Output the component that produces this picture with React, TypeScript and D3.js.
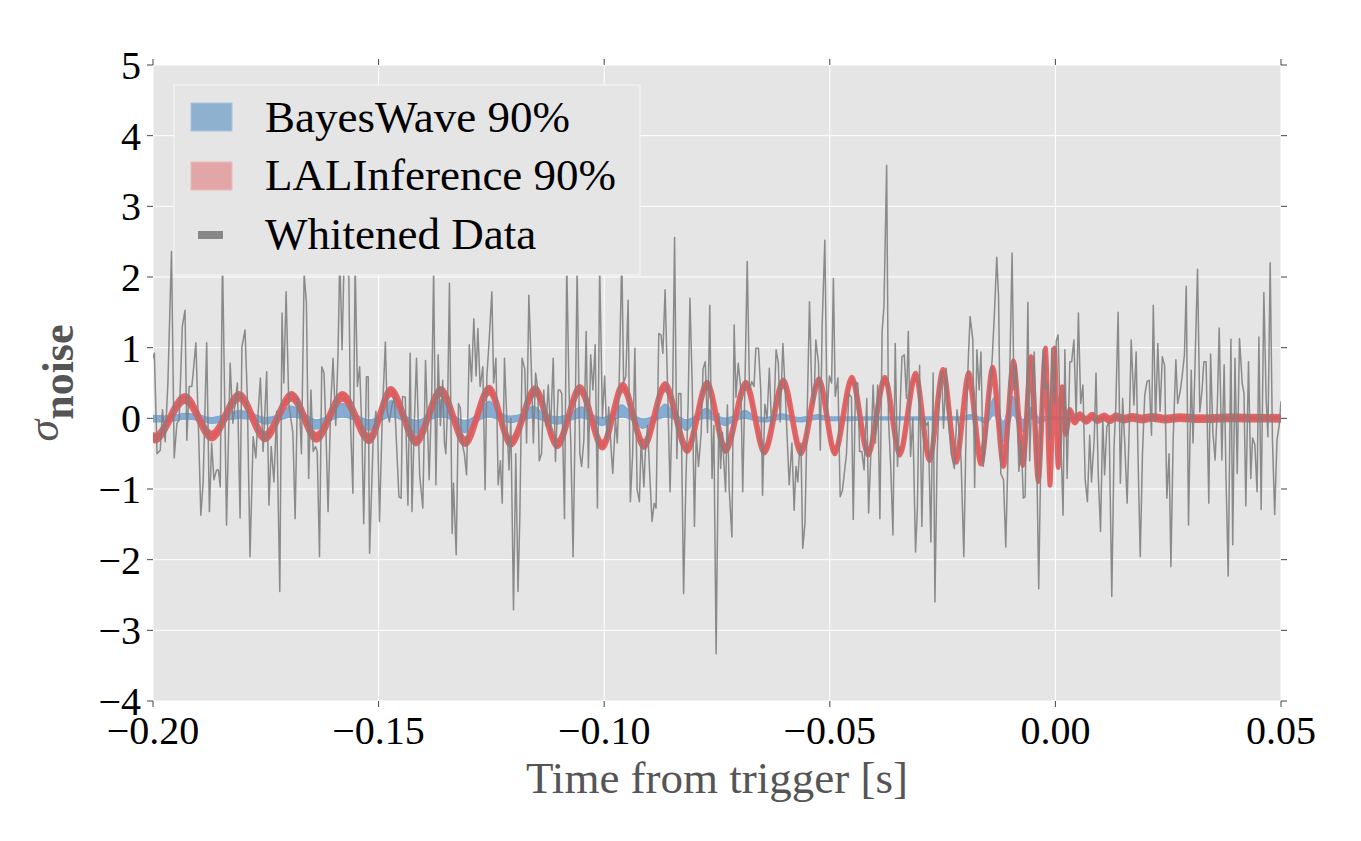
import React from "react";
import * as d3 from "d3";

// ---------- data (time in ms from trigger, values in sigma_noise) ----------
const xTickValues = [-0.2, -0.15, -0.1, -0.05, 0.0, 0.05];
const yTickValues = [-4, -3, -2, -1, 0, 1, 2, 3, 4, 5];
const legendLabels = ["BayesWave 90%", "LALInference 90%", "Whitened Data"];

const whitenedData: [number, number][] = [
  [-200.0,0.85],[-199.7,0.92],[-199.1,-0.5],[-198.4,-0.45],[-197.9,0.12],[-197.3,-0.33],[-196.7,0.5],[-195.9,2.36],[-195.3,-0.56],[-194.7,-0.07],[-194.2,-0.02],[-193.5,1.3],[-192.9,1.53],[-192.5,-0.31],[-192.0,0.45],[-191.4,0.45],[-191.1,0.64],[-190.5,1.07],[-189.9,-0.2],[-189.4,-1.37],[-188.9,-0.92],[-188.1,1.07],[-187.5,-1.32],[-187.0,-0.35],[-186.5,-0.87],[-185.9,-0.73],[-185.5,-0.73],[-185.1,-0.97],[-184.6,2.3],[-183.7,-1.51],[-182.9,0.78],[-182.3,-0.07],[-181.8,0.21],[-181.3,0.5],[-180.7,-1.41],[-180.3,1.01],[-179.6,1.25],[-179.1,0.3],[-178.5,-1.96],[-177.8,-0.26],[-177.2,-0.56],[-176.7,0.07],[-176.2,0.57],[-175.6,-0.47],[-174.8,0.66],
  [-174.3,-1.23],[-173.8,-0.4],[-173.2,-0.9],[-172.6,0.1],[-171.9,-2.45],[-171.4,1.49],[-171.0,0.5],[-170.5,1.79],[-169.9,0.2],[-169.3,-0.07],[-169.0,-0.2],[-168.5,-1.42],[-168.0,0.3],[-167.5,0.1],[-167.1,-0.5],[-166.5,2.05],[-166.0,1.63],[-165.5,-0.85],[-165.0,0.4],[-164.5,-0.47],[-164.0,-0.4],[-163.6,-0.47],[-163.1,-1.96],[-162.6,0.73],[-162.1,0.64],[-161.7,-0.1],[-161.2,-1.32],[-160.6,0.2],[-160.1,0.85],[-159.5,-0.1],[-159.0,0.9],[-158.6,2.3],[-158.1,0.97],[-157.7,2.1],[-157.2,2.1],[-156.6,2.0],[-156.2,-0.12],[-155.7,-1.06],[-155.2,2.2],[-154.7,0.45],[-154.2,0.73],[-153.7,-0.2],[-153.3,-1.49],[-152.7,0.59],[-152.3,0.59],[-152.0,-1.91],[-151.2,-0.3],[-150.6,0.1],[-150.2,-0.15],[-149.8,-1.46],
  [-149.2,0.0],[-148.5,1.08],[-148.1,0.1],[-147.6,-0.05],[-147.0,0.2],[-146.5,0.3],[-146.0,-0.4],[-145.5,-1.11],[-145.0,-1.13],[-144.7,0.31],[-144.1,0.3],[-143.5,-1.23],[-143.0,0.92],[-142.6,-1.32],[-142.1,-0.1],[-141.6,0.85],[-140.9,-0.8],[-140.6,-1.0],[-140.2,-1.27],[-139.6,0.82],[-139.1,-0.2],[-138.8,-0.87],[-138.2,0.4],[-137.8,2.1],[-137.3,-0.94],[-136.8,0.9],[-136.3,-0.1],[-135.8,0.54],[-135.4,-0.35],[-135.1,-0.5],[-134.7,0.21],[-134.3,1.91],[-133.7,-1.63],[-133.4,-0.92],[-132.8,-1.93],[-132.3,0.21],[-131.9,0.15],[-131.5,-0.35],[-131.0,-0.5],[-130.5,-0.8],[-129.9,1.04],[-129.4,0.52],[-128.9,1.41],[-128.4,0.6],[-128.0,1.27],[-127.5,0.45],[-126.9,0.73],[-126.4,-1.01],[-126.0,0.6],[-125.5,1.1],[-124.9,1.79],
  [-124.5,0.5],[-124.0,0.85],[-123.5,-0.94],[-123.0,-0.6],[-122.6,-1.2],[-122.1,0.85],[-121.6,0.0],[-121.1,-0.73],[-120.7,0.0],[-120.1,-2.71],[-119.6,-0.5],[-119.1,-2.45],[-118.7,-1.4],[-118.2,0.85],[-117.6,0.7],[-117.2,-0.35],[-116.7,1.74],[-116.2,0.8],[-115.7,-0.35],[-115.2,0.64],[-114.7,0.4],[-114.4,-0.6],[-113.9,-0.5],[-113.4,0.4],[-112.9,-0.1],[-112.4,0.47],[-111.9,-0.2],[-111.3,0.85],[-110.8,-0.61],[-110.2,0.4],[-109.8,0.4],[-109.4,0.35],[-108.8,-1.42],[-108.3,2.2],[-107.8,0.4],[-107.4,-0.35],[-106.9,-1.96],[-106.5,-0.3],[-106.0,2.1],[-105.4,-0.5],[-105.0,-0.68],[-104.5,-0.3],[-104.0,1.23],[-103.5,-0.7],[-103.0,0.9],[-102.5,0.4],[-102.0,1.04],[-101.5,-1.27],[-101.0,2.15],[-100.4,0.0],[-99.9,0.6],
  [-99.4,-0.3],[-99.0,0.16],[-98.4,-0.5],[-98.1,-0.78],[-97.5,0.0],[-97.1,-0.35],[-96.7,0.45],[-96.1,2.3],[-95.7,0.5],[-95.2,0.6],[-94.7,1.67],[-94.2,-1.18],[-93.7,-0.5],[-93.2,0.99],[-92.7,-1.01],[-92.2,-1.18],[-91.8,-0.3],[-91.2,-0.97],[-90.9,-0.5],[-90.4,-0.1],[-89.9,-0.8],[-89.4,-1.46],[-88.9,-1.2],[-88.5,-1.27],[-87.9,1.2],[-87.4,1.18],[-87.0,0.92],[-86.5,1.82],[-85.9,0.3],[-85.4,-1.04],[-84.8,0.5],[-84.4,2.56],[-83.9,-0.57],[-83.5,0.35],[-83.0,0.35],[-82.4,-2.48],[-81.9,-0.9],[-81.4,0.2],[-81.0,1.7],[-80.5,0.5],[-80.0,-1.53],[-79.6,-0.2],[-79.1,-0.68],[-78.5,-0.2],[-78.1,0.7],[-77.6,0.8],[-77.1,-0.2],[-76.6,1.6],[-76.1,-0.85],[-75.7,-0.1],[-75.2,-3.33],
  [-74.6,0.07],[-74.2,-0.71],[-73.8,-0.2],[-73.5,-0.6],[-73.1,-1.04],[-72.7,0.19],[-72.3,-1.0],[-71.7,-1.68],[-71.2,1.32],[-70.8,0.3],[-70.3,0.78],[-69.7,0.4],[-69.3,-1.04],[-68.8,0.5],[-68.3,2.22],[-67.8,0.4],[-67.3,0.52],[-66.8,0.45],[-66.4,0.99],[-65.8,0.99],[-65.3,0.4],[-64.9,-1.09],[-64.4,0.2],[-63.9,0.0],[-63.4,0.71],[-62.9,-0.1],[-62.4,0.05],[-61.9,0.97],[-61.4,0.78],[-61.0,-0.05],[-60.4,1.06],[-59.9,0.4],[-59.4,-0.35],[-59.0,-0.94],[-58.4,-0.35],[-57.9,-1.3],[-57.5,-0.68],[-57.1,-0.9],[-56.8,-0.55],[-56.4,-0.35],[-56.0,-1.84],[-55.5,-1.49],[-55.1,-0.2],[-54.5,1.65],[-54.0,0.4],[-53.5,0.21],[-53.1,1.11],[-52.5,0.78],[-52.1,-0.45],[-51.7,1.3],[-51.1,2.52],[-50.6,0.0],[-50.1,0.6],[-49.6,0.5],
  [-49.2,1.98],[-48.8,0.31],[-48.2,0.57],[-47.7,-1.11],[-47.2,-1.02],[-46.7,-0.73],[-46.3,-0.5],[-45.8,0.35],[-45.2,0.3],[-44.8,-1.43],[-44.3,0.5],[-43.8,0.5],[-43.4,-0.47],[-42.9,-0.47],[-42.4,-0.73],[-41.8,0.28],[-41.4,-1.34],[-40.9,-0.5],[-40.4,0.47],[-39.9,-0.35],[-39.4,0.47],[-38.9,-1.42],[-38.4,1.23],[-38.0,1.58],[-37.4,3.58],[-37.0,0.0],[-36.5,-0.68],[-36.0,-1.65],[-35.5,1.06],[-35.0,-0.68],[-34.5,0.0],[-34.0,0.87],[-33.5,0.9],[-33.0,0.28],[-32.6,1.23],[-32.1,-0.54],[-31.6,0.0],[-31.0,-1.89],[-30.6,-1.3],[-30.1,0.75],[-29.6,-1.53],[-29.1,0.0],[-28.6,-0.1],[-28.2,-0.05],[-27.6,-1.75],[-27.1,0.64],[-26.7,-2.6],[-26.2,-0.47],[-25.6,0.5],[-25.2,0.66],[-24.8,-0.14],[-24.2,0.71],
  [-23.7,0.0],[-23.1,-0.5],[-22.4,-0.71],[-21.8,0.12],[-21.3,-0.2],[-20.9,-0.6],[-20.3,-1.96],[-19.8,-0.2],[-19.3,0.85],[-18.9,1.44],[-18.3,1.11],[-17.9,-0.98],[-17.4,0.97],[-16.9,0.4],[-16.5,0.94],[-16.0,-0.68],[-15.4,-0.3],[-14.9,0.0],[-14.5,0.45],[-14.0,0.85],[-13.5,1.5],[-13.0,2.28],[-12.6,1.72],[-12.1,-0.78],[-11.5,-0.87],[-11.0,-1.82],[-10.5,-0.5],[-10.1,0.7],[-9.6,2.34],[-9.2,0.4],[-8.7,0.75],[-8.1,-0.75],[-7.6,-0.31],[-7.1,-1.13],[-6.7,-1.11],[-6.1,1.64],[-5.7,-0.6],[-5.2,0.4],[-4.7,0.94],[-4.2,-0.3],[-3.7,-2.41],[-3.2,-0.4],[-2.7,0.97],[-2.2,0.4],[-1.7,0.5],[-1.3,-0.3],[-0.8,0.99],[-0.2,0.2],[0.2,1.1],[0.6,1.18],
  [1.2,-0.3],[1.7,-1.37],[2.1,0.97],[2.6,-0.85],[3.2,0.8],[3.6,0.8],[4.1,1.11],[4.6,0.0],[5.1,1.49],[5.6,0.21],[6.1,0.47],[6.6,-0.87],[7.1,-1.18],[7.6,-0.24],[8.0,-0.9],[8.6,-0.3],[9.0,0.64],[9.5,-0.8],[10.0,-1.6],[10.5,0.0],[10.9,-0.8],[11.4,-0.12],[11.9,-0.05],[12.5,-2.52],[13.0,-0.4],[13.4,0.2],[13.9,1.5],[14.4,-0.92],[14.9,0.28],[15.4,-0.4],[15.9,-1.2],[16.4,-0.05],[16.8,1.11],[17.4,0.19],[17.9,0.94],[18.3,-0.5],[18.8,-1.96],[19.3,-0.5],[19.8,0.33],[20.3,0.52],[20.8,0.54],[21.3,-0.24],[21.7,1.6],[22.2,-0.05],[22.7,1.06],[23.2,0.1],[23.7,0.87],[24.2,0.75],[24.7,-1.13],[25.2,-0.5],[25.6,-2.1],
  [26.1,-0.3],[26.7,0.83],[27.1,0.21],[27.7,0.4],[28.1,0.6],[28.6,0.9],[29.0,1.87],[29.5,-1.51],[30.1,0.68],[30.5,-0.35],[31.0,0.9],[31.5,2.11],[32.0,0.09],[32.5,0.4],[32.9,0.8],[33.4,0.8],[34.0,-1.2],[34.4,0.91],[34.9,-0.2],[35.4,-0.59],[35.9,0.2],[36.3,1.28],[36.9,-0.59],[37.4,0.76],[37.8,-0.8],[38.3,-2.23],[38.9,1.12],[39.3,-1.79],[39.8,0.85],[40.3,-0.78],[40.8,1.13],[41.4,0.5],[41.8,0.35],[42.2,-1.24],[42.8,0.8],[43.3,-0.85],[43.7,-0.28],[44.2,-0.37],[44.7,-1.04],[45.1,1.15],[45.6,-1.29],[46.2,1.78],[46.7,0.3],[47.1,-0.26],[47.6,2.2],[48.1,-0.3],[48.6,-1.36],[49.1,-0.31],[49.6,-0.1],[50.0,0.24],
];

// LALInference 90%: [time ms, centre, half width] at the waveform's turning points
const lalBand: [number, number, number][] = [
  [-200.0,-0.27,0.045],[-199.6,-0.28,0.045],[-192.9,0.28,0.045],[-187.0,-0.25,0.045],[-180.9,0.31,0.045],[-175.2,-0.26,0.045],
  [-169.3,0.31,0.045],[-163.8,-0.27,0.045],[-158.0,0.31,0.045],[-152.1,-0.29,0.045],[-147.3,0.38,0.045],[-141.7,-0.32,0.045],
  [-136.2,0.38,0.045],[-130.8,-0.33,0.045],[-125.5,0.4,0.045],[-120.7,-0.34,0.045],[-115.3,0.39,0.045],[-110.4,-0.36,0.045],
  [-105.4,0.41,0.045],[-100.4,-0.38,0.045],[-95.9,0.44,0.045],[-91.2,-0.37,0.045],[-86.5,0.45,0.045],[-81.6,-0.43,0.045],
  [-77.2,0.47,0.045],[-73.1,-0.43,0.045],[-68.6,0.47,0.045],[-64.5,-0.45,0.045],[-60.3,0.5,0.045],[-56.4,-0.46,0.045],
  [-52.4,0.52,0.045],[-48.9,-0.46,0.045],[-45.1,0.54,0.045],[-41.5,-0.48,0.045],[-37.8,0.54,0.045],[-34.5,-0.48,0.045],
  [-31.0,0.59,0.05],[-27.9,-0.55,0.05],[-24.9,0.64,0.055],[-22.0,-0.57,0.055],[-19.2,0.59,0.06],[-16.5,-0.59,0.06],
  [-13.9,0.66,0.065],[-11.5,-0.61,0.075],[-9.3,0.73,0.085],[-7.2,-0.57,0.1],[-5.4,0.78,0.1],[-3.8,-0.75,0.15],
  [-2.2,0.85,0.15],[-1.2,-0.75,0.2],[-0.2,0.8,0.2],[0.6,-0.5,0.2],[1.5,0.3,0.15],[2.3,-0.15,0.08],[3.2,0.08,0.05],
  [4.3,-0.03,0.04],[5.4,0.04,0.03],[6.8,-0.03,0.03],[8.1,0.03,0.03],[9.4,-0.02,0.03],[10.8,0.02,0.03],[12.1,-0.02,0.03],
  [13.4,0.02,0.03],[15.2,-0.01,0.03],[17.0,0.015,0.03],[19.2,-0.01,0.03],[21.4,0.015,0.03],[24.3,-0.01,0.03],
  [27.6,0.01,0.03],[32.1,-0.005,0.03],[38.7,0.005,0.03],[50.0,0.0,0.03],
];

// BayesWave 90%: [time ms, lower, upper]
const bayesBand: [number, number, number][] = [
  [-200.0,-0.05,0.04],[-196.2,-0.04,0.03],[-192.9,-0.01,0.07],[-189.6,-0.03,0.04],[-186.9,-0.07,0.01],[-184.0,-0.03,0.05],
  [-180.7,0.0,0.11],[-177.4,-0.03,0.05],[-175.0,-0.08,0.01],[-171.9,-0.02,0.06],[-169.4,0.02,0.17],[-166.3,-0.03,0.06],
  [-163.9,-0.15,-0.02],[-160.8,-0.03,0.05],[-158.1,0.02,0.21],[-155.2,-0.03,0.06],[-152.1,-0.17,-0.02],[-149.7,-0.04,0.04],
  [-147.3,0.02,0.25],[-144.6,-0.03,0.06],[-141.7,-0.22,-0.03],[-139.1,-0.04,0.04],[-136.2,0.02,0.26],[-133.5,-0.03,0.05],
  [-130.9,-0.2,-0.03],[-128.2,-0.04,0.05],[-125.5,0.02,0.24],[-123.1,-0.02,0.08],[-120.9,-0.06,0.03],[-118.2,-0.02,0.06],
  [-115.7,0.01,0.17],[-113.1,-0.04,0.05],[-110.4,-0.08,0.02],[-107.8,-0.03,0.06],[-105.1,0.01,0.16],[-102.7,-0.03,0.05],
  [-100.5,-0.1,0.01],[-98.3,-0.03,0.06],[-96.1,0.02,0.19],[-93.6,-0.03,0.05],[-91.4,-0.14,-0.01],[-88.7,-0.03,0.05],
  [-86.5,0.02,0.2],[-84.1,-0.02,0.05],[-81.8,-0.17,-0.02],[-79.6,-0.03,0.04],[-77.4,0.0,0.14],[-75.2,-0.04,0.04],
  [-73.2,-0.1,0.0],[-71.0,-0.03,0.04],[-68.8,0.0,0.11],[-66.6,-0.03,0.03],[-64.6,-0.05,0.01],[-62.6,-0.03,0.03],
  [-60.6,-0.01,0.06],[-58.6,-0.03,0.03],[-56.6,-0.05,0.01],[-54.6,-0.03,0.03],[-52.6,-0.01,0.05],[-50.0,-0.03,0.02],
  [-45.6,-0.03,0.02],[-41.2,-0.02,0.02],[-34.4,-0.02,0.02],[-27.9,-0.02,0.02],[-21.1,-0.02,0.02],[-18.7,-0.01,0.05],
  [-17.1,-0.02,0.02],[-15.4,-0.07,0.0],[-13.6,0.05,0.29],[-11.6,-0.33,-0.05],[-9.4,0.05,0.31],[-7.2,-0.19,-0.02],
  [-5.4,0.0,0.15],[-3.6,-0.07,0.01],[-1.9,-0.02,0.03],[1.0,-0.02,0.02],[50.0,-0.02,0.02],
];

// ---------- layout ----------
const W = 1361;
const H = 841;
const plot = { left: 153, right: 1281, top: 65, bottom: 701 };
const FONT = "'Liberation Serif', 'Times New Roman', serif";

export default function App() {
  const x = d3.scaleLinear().domain([-0.2, 0.05]).range([plot.left, plot.right]);
  const y = d3.scaleLinear().domain([-4, 5]).range([plot.bottom, plot.top]);
  const sec = (ms: number) => ms / 1000;

  const grayLine = d3
    .line<[number, number]>()
    .x((d) => x(sec(d[0])))
    .y((d) => y(d[1]));

  const redArea = d3
    .area<[number, number, number]>()
    .curve(d3.curveMonotoneX)
    .x((d) => x(sec(d[0])))
    .y0((d) => y(d[1] - d[2]))
    .y1((d) => y(d[1] + d[2]));

  const blueArea = d3
    .area<[number, number, number]>()
    .curve(d3.curveMonotoneX)
    .x((d) => x(sec(d[0])))
    .y0((d) => y(d[1]))
    .y1((d) => y(d[2]));

  const fmtX = (v: number) => {
    const s = Math.abs(v).toFixed(2);
    return (v < -1e-9 ? "\u2212" : "") + s;
  };
  const fmtY = (v: number) => (v < 0 ? "\u2212" + Math.abs(v) : String(v));

  return (
    <svg
      width={W}
      height={H}
      style={{ position: "absolute", left: 0, top: 0, background: "#fff" }}
      fontFamily={FONT}
    >
      <defs>
        <clipPath id="plotClip">
          <rect x={plot.left} y={plot.top} width={plot.right - plot.left} height={plot.bottom - plot.top} />
        </clipPath>
      </defs>
      <rect x={plot.left} y={plot.top} width={plot.right - plot.left} height={plot.bottom - plot.top} fill="#e5e5e5" />
      {/* grid */}
      {yTickValues.map((v) => (
        <line key={"gy" + v} x1={plot.left} x2={plot.right} y1={y(v)} y2={y(v)} stroke="#ffffff" strokeWidth={1} />
      ))}
      {xTickValues.map((v) => (
        <line key={"gx" + v} x1={x(v)} x2={x(v)} y1={plot.top} y2={plot.bottom} stroke="#ffffff" strokeWidth={1} />
      ))}
      <g clipPath="url(#plotClip)">
        <path d={blueArea(bayesBand) || ""} fill="#7ea9d3" fillOpacity={0.95} stroke="#7ea9d3" strokeWidth={1.5} />
        <path d={redArea(lalBand) || ""} fill="#e05a5b" fillOpacity={0.92} stroke="#e05a5b" strokeOpacity={0.92} strokeWidth={4.5} strokeLinejoin="round" />
        <path d={grayLine(whitenedData) || ""} fill="none" stroke="#808080" strokeOpacity={0.9} strokeWidth={1.5} strokeLinejoin="round" />
      </g>
      {/* ticks */}
      {yTickValues.map((v) => (
        <g key={"ty" + v}>
          <line x1={plot.left - 6} x2={plot.left} y1={y(v)} y2={y(v)} stroke="#444" strokeWidth={1} />
          <line x1={plot.right} x2={plot.right + 6} y1={y(v)} y2={y(v)} stroke="#444" strokeWidth={1} />
          <text x={141} y={y(v)} dy="0.35em" textAnchor="end" fontSize={40} fill="#000">
            {fmtY(v)}
          </text>
        </g>
      ))}
      {xTickValues.map((v) => (
        <g key={"tx" + v}>
          <line x1={x(v)} x2={x(v)} y1={plot.top - 6} y2={plot.top} stroke="#444" strokeWidth={1} />
          <line x1={x(v)} x2={x(v)} y1={plot.bottom} y2={plot.bottom + 6} stroke="#444" strokeWidth={1} />
          <text x={x(v)} y={744} textAnchor="middle" fontSize={40} fill="#000">
            {fmtX(v)}
          </text>
        </g>
      ))}
      {/* axis labels */}
      <text x={(plot.left + plot.right) / 2} y={793} textAnchor="middle" fontSize={45} fill="#555555">
        Time from trigger [s]
      </text>
      <g transform={`translate(58, ${(plot.top + plot.bottom) / 2})`}>
        <text transform="rotate(-90)" textAnchor="middle" fill="#555555" fontSize={44}>
          <tspan fontStyle="italic">σ</tspan>
          <tspan dy={15} fontWeight="bold">noise</tspan>
        </text>
      </g>
      {/* legend */}
      <g>
        <rect x={174} y={85} width={466} height={190} fill="#e5e5e5" stroke="#f4f4f4" strokeWidth={1.2} />
        <rect x={191} y={103} width={41} height={28} fill="#8fb1d0" stroke="#a8c4de" strokeWidth={1} />
        <rect x={191} y={162} width={41} height={28} fill="#e3a6a6" stroke="#ecbcbc" strokeWidth={1} />
        <rect x={198} y={231} width={25} height={8} fill="#888888" />
        {legendLabels.map((s, i) => (
          <text key={s} x={265} y={[131.5, 189.5, 248.5][i]} fontSize={45} fill="#000">
            {s}
          </text>
        ))}
      </g>
    </svg>
  );
}
